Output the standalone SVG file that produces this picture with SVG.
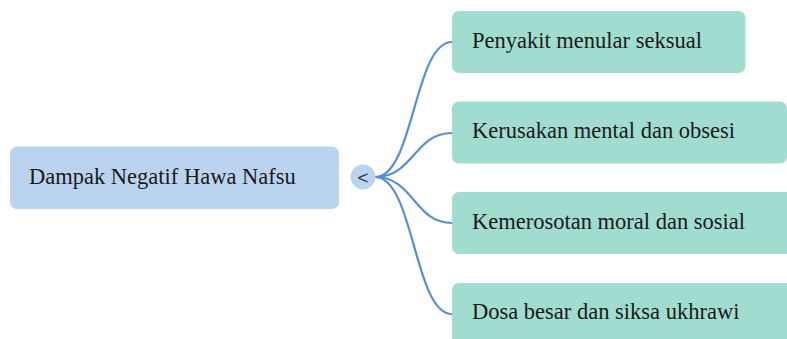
<svg xmlns="http://www.w3.org/2000/svg" width="787" height="339" viewBox="0 0 787 339">
<style>
.root{fill:#BAD4F0;}
.child{fill:#A1DCD0;}
.c{fill:none;stroke:#5A8ED2;stroke-width:2.2;}
.t{font-family:'Liberation Serif',serif;font-size:22.5px;fill:#1a1a1a;}
</style>
<rect width="787" height="339" fill="#ffffff"/>
<g id="connectors">
<path class="c" d="M375,177 C414,177 414,42 452,42"/>
<path class="c" d="M375,177 C414,177 414,133 452,133"/>
<path class="c" d="M375,177 C414,177 414,223 452,223"/>
<path class="c" d="M375,177 C414,177 414,314 452,314"/>
</g>
<g id="root">
<rect class="root" x="10" y="146.5" width="329" height="62.5" rx="7"/>
<text class="t" x="29" y="183.5">Dampak Negatif Hawa Nafsu</text>
</g>
<g id="n1">
<rect class="child" x="452" y="11" width="293.5" height="62" rx="7"/>
<text class="t" x="472" y="47.5">Penyakit menular seksual</text>
</g>
<g id="n2">
<rect class="child" x="452" y="101.5" width="335" height="62" rx="7"/>
<text class="t" x="472" y="137.5">Kerusakan mental dan obsesi</text>
</g>
<g id="n3">
<rect class="child" x="452" y="192" width="345" height="62" rx="7"/>
<text class="t" x="472" y="228.5">Kemerosotan moral dan sosial</text>
</g>
<g id="n4">
<rect class="child" x="452" y="283" width="345" height="70" rx="7"/>
<text class="t" x="472" y="318.5">Dosa besar dan siksa ukhrawi</text>
</g>
<g id="toggle">
<circle class="root" cx="363" cy="177" r="12.5"/>
<text x="363" y="184" font-family="'Liberation Sans', sans-serif" font-size="19" fill="#333" text-anchor="middle">&lt;</text>
</g>
</svg>
